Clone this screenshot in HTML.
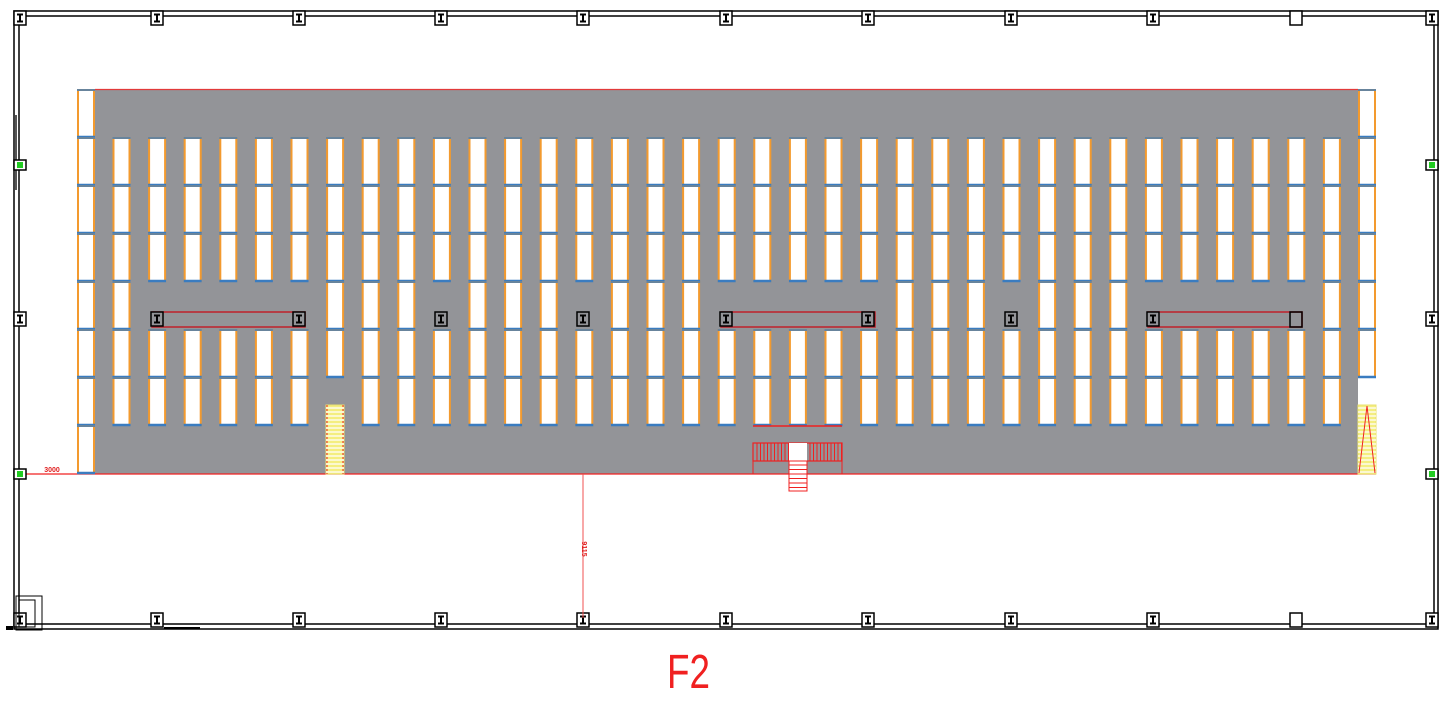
<!DOCTYPE html>
<html><head><meta charset="utf-8"><style>html,body{margin:0;padding:0;background:#fff;width:1452px;height:717px;overflow:hidden}</style></head>
<body>
<svg id="s" xmlns="http://www.w3.org/2000/svg" width="1452" height="717" viewBox="0 0 1452 717">
<rect width="1452" height="717" fill="#fff"/>
<rect x="14" y="11" width="1424" height="618" fill="none" stroke="#000" stroke-width="1.5"/>
<rect x="19" y="16" width="1415" height="608" fill="none" stroke="#000" stroke-width="1.5"/>
<line x1="16" y1="115" x2="16" y2="190" stroke="#555" stroke-width="2"/>
<rect x="95" y="89" width="1263" height="385" fill="#939498"/>
<line x1="95" y1="89.5" x2="1358" y2="89.5" stroke="#e23a3a" stroke-width="1.2"/>
<line x1="19" y1="474" x2="1376" y2="474" stroke="#f02020" stroke-width="1.2"/>
<g id="racks"></g>
<rect x="152" y="312" width="153" height="15" fill="none" stroke="#c0202a" stroke-width="1.5"/>
<rect x="721" y="312" width="154" height="15" fill="none" stroke="#c0202a" stroke-width="1.5"/>
<rect x="1148" y="312" width="154" height="15" fill="none" stroke="#c0202a" stroke-width="1.5"/>
<g id="cols"></g>
<rect x="326" y="405" width="18" height="69" fill="#f4ee80" stroke="#e8e070"/>
<g id="lst"></g>
<line x1="327" y1="405" x2="327" y2="474" stroke="#f02020" stroke-dasharray="2,2"/>
<line x1="343" y1="405" x2="343" y2="474" stroke="#f02020" stroke-dasharray="2,2"/>
<rect x="1358" y="405" width="18" height="69" fill="#f4ee80" stroke="#e8e070"/>
<g id="rst"></g>
<polyline points="1359,473 1367,406 1375,473" fill="none" stroke="#f02020"/>
<line x1="753" y1="426" x2="842" y2="426" stroke="#f02020" stroke-width="1.5"/>
<rect x="753" y="443" width="89" height="18" fill="none" stroke="#f02020" stroke-width="1.2"/>
<line x1="753" y1="461" x2="753" y2="474" stroke="#f02020"/>
<line x1="842" y1="461" x2="842" y2="474" stroke="#f02020"/>
<rect x="789" y="443" width="18" height="18" fill="#fff"/>
<rect x="789" y="461" width="18" height="30" fill="#fff" stroke="#f02020"/>
<g id="cst"></g>
<line x1="583" y1="474" x2="583" y2="618" stroke="#f05050" stroke-width="1"/>
<text x="0" y="0" transform="translate(582,549) rotate(90)" font-family="Liberation Sans,sans-serif" font-size="7" fill="#e02020" text-anchor="middle" font-weight="bold">9115</text>
<text x="52" y="472" font-family="Liberation Sans,sans-serif" font-size="7" fill="#e02020" text-anchor="middle" font-weight="bold">3000</text>
<line x1="164" y1="628" x2="200" y2="628" stroke="#000" stroke-width="2"/>
<rect x="16" y="596" width="26" height="34" fill="none" stroke="#000"/>
<rect x="19" y="600" width="16" height="27" fill="none" stroke="#000"/>
<rect x="6" y="626" width="7" height="4" fill="#000"/>
<text x="667" y="688" font-family="Liberation Sans,sans-serif" font-size="48" fill="#f02020" textLength="43" lengthAdjust="spacingAndGlyphs">F2</text>
</svg>
<script>
var NS="http://www.w3.org/2000/svg";
function el(p,t,a){var e=document.createElementNS(NS,t);for(var k in a)e.setAttribute(k,a[k]);p.appendChild(e);return e;}
var R=document.getElementById('racks');
function cell(x,y,w,h){el(R,'rect',{x:x+1,y:y,width:w-2,height:h,fill:'#fff',stroke:'#f39a2e','stroke-width':2});
 el(R,'line',{x1:x,y1:y+h,x2:x+w,y2:y+h,stroke:'#3a7cc0','stroke-width':2.5});
 el(R,'line',{x1:x,y1:y,x2:x+w,y2:y,stroke:'#3a7cc0','stroke-width':1.5});}
var rows=[138,186,234,282,330,378];
var missing4=[1,2,3,4,5,9,13,17,18,19,20,21,25,29,30,31,32,33];
for(var c=0;c<35;c++){
 var x=112.5+c*35.6;
 for(var r=0;r<6;r++){
  if(r==3&&missing4.indexOf(c)>=0)continue;
  if(r==5&&c==6)continue;
  cell(x,rows[r],18,47);
 }
}
var ly=[90,138,186,234,282,330,378,426];
for(var i=0;i<8;i++){cell(77,ly[i],18,47);}
for(var i=0;i<6;i++){cell(1358,ly[i],18,47);}
var L=document.getElementById('lst');
for(var y=408;y<474;y+=4)el(L,'line',{x1:326,y1:y,x2:344,y2:y,stroke:'#fff','stroke-width':1.2});
var Rs=document.getElementById('rst');
for(var y=408;y<474;y+=4)el(Rs,'line',{x1:1358,y1:y,x2:1376,y2:y,stroke:'#fff','stroke-width':1.2});
var C=document.getElementById('cst');
for(var x=757;x<789;x+=3.5)el(C,'line',{x1:x,y1:443,x2:x,y2:461,stroke:'#f02020'});
for(var x=810;x<842;x+=3.5)el(C,'line',{x1:x,y1:443,x2:x,y2:461,stroke:'#f02020'});
for(var y=465;y<491;y+=4.5)el(C,'line',{x1:789,y1:y,x2:807,y2:y,stroke:'#f02020'});
var G=document.getElementById('cols');
function mark(cx,cy,ibeam,green,bg){
 el(G,'rect',{x:cx-6,y:cy-7,width:12,height:14,fill:bg||'#fff',stroke:'#000','stroke-width':1.5});
 if(ibeam){el(G,'path',{d:'M'+(cx-3)+' '+(cy-3.5)+'h6M'+cx+' '+(cy-3.5)+'v7M'+(cx-3)+' '+(cy+3.5)+'h6',stroke:green?'#1a8a1a':'#000','stroke-width':2,fill:'none'});}
}
var xs=[157,299,441,583,726,868,1011,1153];
xs.forEach(function(x){mark(x,18,true);mark(x,620,true);});
mark(1296,18,false);mark(1296,620,false);
mark(20,18,true);mark(1432,18,true);mark(20,620,true);mark(1432,620,true);
[165,474].forEach(function(y){
 el(G,'rect',{x:14,y:y-5,width:12,height:10,fill:'#fff',stroke:'#000','stroke-width':1.5});
 el(G,'rect',{x:17,y:y-3,width:6,height:6,fill:'#22cc22'});
 el(G,'rect',{x:1426,y:y-5,width:12,height:10,fill:'#fff',stroke:'#000','stroke-width':1.5});
 el(G,'rect',{x:1429,y:y-3,width:6,height:6,fill:'#22cc22'});
});
mark(20,319,true);mark(1432,319,true);
[157,299,441,583,726,868,1011,1153].forEach(function(x){mark(x,319,true,false,'#939498');});
el(G,'rect',{x:1290,y:312,width:12,height:15,fill:'none',stroke:'#000','stroke-width':1.5});
</script>
</body></html>
